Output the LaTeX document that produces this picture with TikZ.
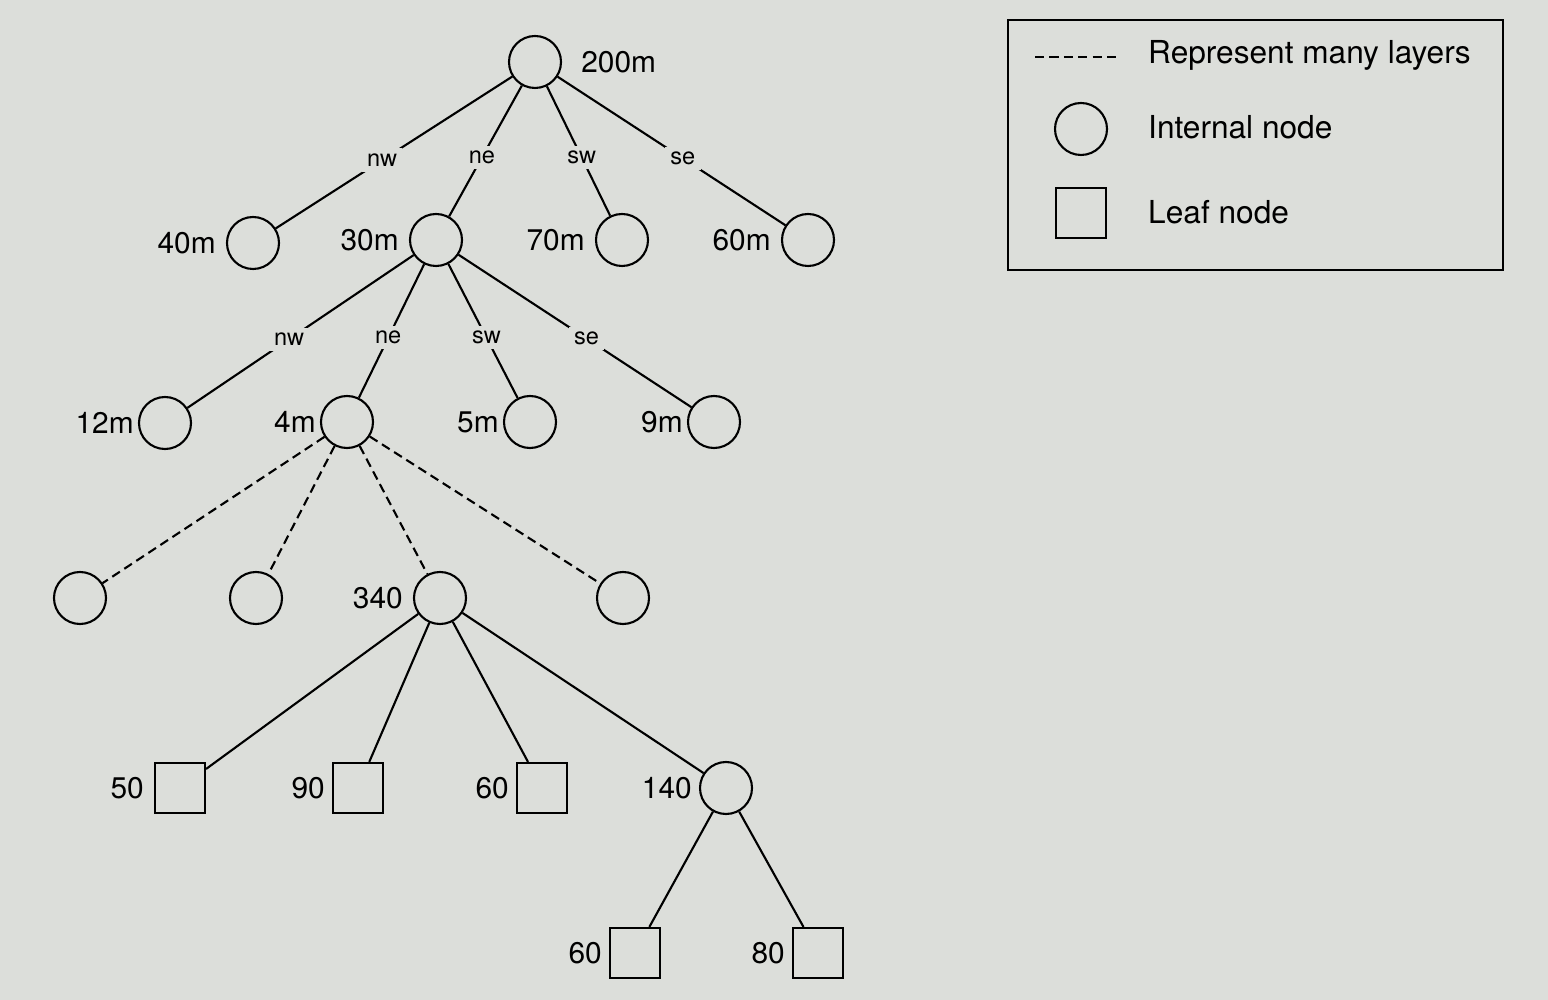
\documentclass[tikz,border=0pt]{standalone}
\usepackage{fontspec}
\setmainfont{TeX Gyre Heros}
\usetikzlibrary{positioning}
\definecolor{paper}{HTML}{DCDEDA}
\tikzset{
  inode/.style={draw, circle, minimum size=5.2mm, inner sep=0pt, line width=0.6pt},
  lnode/.style={draw, rectangle, minimum size=5mm, inner sep=0pt, line width=0.6pt},
  wt/.style={font=\fontsize{8.5}{10}\selectfont, inner sep=1pt},
  key/.style={font=\fontsize{9}{11}\selectfont, inner sep=1pt, anchor=west},
  quad/.style={font=\fontsize{6.7}{8}\selectfont, fill=paper, inner sep=1.5pt, pos=0.55},
  link/.style={line width=0.6pt},
  layers/.style={link, dash pattern=on 2.6pt off 1.5pt},
}
\begin{document}
\begin{tikzpicture}[node distance=0.6mm]
  \fill[paper] (0,0) rectangle (15.48,-10);
  \useasboundingbox (0,0) rectangle (15.48,-10);
  \node[inode] (root) at (5.35,-0.62) {};
  \node[inode] (n40) at (2.53,-2.43) {};
  \node[inode] (n30) at (4.36,-2.40) {};
  \node[inode] (n70) at (6.22,-2.40) {};
  \node[inode] (n60) at (8.08,-2.40) {};
  \node[inode] (n12) at (1.65,-4.23) {};
  \node[inode] (n4) at (3.47,-4.22) {};
  \node[inode] (n5) at (5.30,-4.22) {};
  \node[inode] (n9) at (7.14,-4.22) {};
  \node[inode] (d1) at (0.80,-5.98) {};
  \node[inode] (d2) at (2.56,-5.98) {};
  \node[inode] (n340) at (4.40,-5.98) {};
  \node[inode] (d4) at (6.23,-5.98) {};
  \node[lnode] (l50) at (1.80,-7.88) {};
  \node[lnode] (l90) at (3.58,-7.88) {};
  \node[lnode] (l60) at (5.42,-7.88) {};
  \node[inode] (n140) at (7.26,-7.88) {};
  \node[lnode] (l60b) at (6.35,-9.53) {};
  \node[lnode] (l80) at (8.18,-9.53) {};

  \node[wt, right=1.5mm of root] {200m};
  \node[wt, left=of n40] {40m};
  \node[wt, left=of n30] {30m};
  \node[wt, left=of n70] {70m};
  \node[wt, left=of n60] {60m};
  \node[wt, left=0mm of n12] {12m};
  \node[wt, left=0mm of n4] {4m};
  \node[wt, left=0mm of n5] {5m};
  \node[wt, left=0mm of n9] {9m};
  \node[wt, left=of n340] {340};
  \node[wt, left=of l50] {50};
  \node[wt, left=0.3mm of l90] {90};
  \node[wt, left=0.3mm of l60] {60};
  \node[wt, left=0.3mm of n140] {140};
  \node[wt, left=0.3mm of l60b] {60};
  \node[wt, left=0.3mm of l80] {80};

  \draw[link] (root) -- node[quad] {nw} (n40);
  \draw[link] (root) -- node[quad] {ne} (n30);
  \draw[link] (root) -- node[quad] {sw} (n70);
  \draw[link] (root) -- node[quad] {se} (n60);
  \draw[link] (n30) -- node[quad] {nw} (n12);
  \draw[link] (n30) -- node[quad] {ne} (n4);
  \draw[link] (n30) -- node[quad] {sw} (n5);
  \draw[link] (n30) -- node[quad] {se} (n9);
  \foreach \c in {d1,d2,n340,d4}
    \draw[layers] (n4) -- (\c);
  \foreach \c in {l50,l90,l60,n140}
    \draw[link] (n340) -- (\c);
  \draw[link] (n140) -- (l60b);
  \draw[link] (n140) -- (l80);

  \draw[link] (10.08,-0.20) rectangle (15.03,-2.70);
  \coordinate (dashl) at (10.35,-0.57);
  \coordinate (dashr) at (11.20,-0.57);
  \draw[layers] (dashl) -- (dashr);
  \node[key] (keylay) at (11.44,-0.55) {Represent many layers};
  \node[inode] (keyint) at (10.81,-1.29) {};
  \node[key] at (11.44,-1.27) {Internal node};
  \node[lnode] (keyleaf) at (10.81,-2.13) {};
  \node[key] at (11.44,-2.12) {Leaf node};
\end{tikzpicture}
\end{document}
